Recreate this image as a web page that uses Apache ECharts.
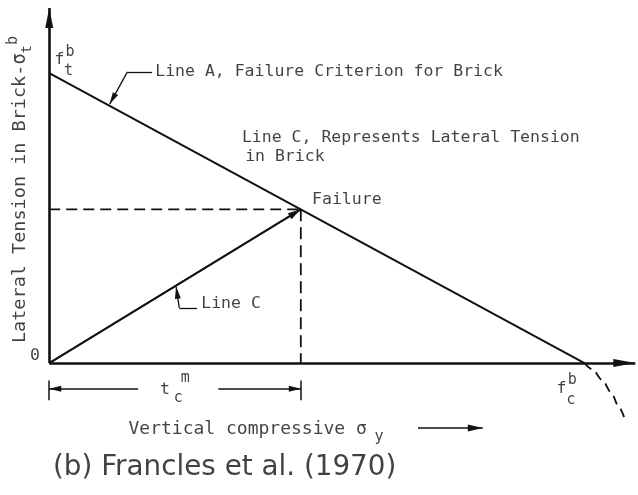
<!DOCTYPE html>
<html>
<head>
<meta charset="utf-8">
<script src="https://cdn.jsdelivr.net/npm/echarts@6/dist/echarts.min.js"></script>
<style>
  html, body { margin: 0; padding: 0; background: #ffffff; }
  #chart { width: 638px; height: 495px; }
</style>
</head>
<body>
<div id="chart"></div>
<script>
// Lateral tension in brick vs. vertical compression (strengths scaled to 10 units)
const ftb = 10;                       // f_t^b : lateral tensile strength of brick
const fcb = 10;                       // f_c^b : compressive strength of brick
const failurePoint = [4.7, 5.3];      // intersection of Line C with Line A
const lineA = [[0, ftb], [fcb, 0]];   // failure criterion for brick
const lineC = [[0, 0], failurePoint]; // lateral tension induced in brick
const envelopeTail = [[10, 0], [10.15, -0.22], [10.33, -0.58], [10.5, -1.02], [10.64, -1.5], [10.75, -1.92]];

const ink = '#111111';
const mono = 'DejaVu Sans Mono';

// plotting window (value space), axes themselves are drawn as arrows
const view = { xMin: -0.92, xMax: 11, yMin: -4.55, yMax: 12.52 };

// arrow segment: plain start, filled head whose tip sits on the end point
function arrow(from, to, w, h, width) {
  return [
    { coord: from, symbol: 'none', lineStyle: { width: width, color: ink, type: 'solid' } },
    { coord: to, symbol: 'triangle', symbolSize: [w, h], symbolOffset: [0, h / 2] }
  ];
}
function plain(from, to, width) {
  return [
    { coord: from, symbol: 'none', lineStyle: { width: width, color: ink, type: 'solid' } },
    { coord: to, symbol: 'none' }
  ];
}

const dimY = -0.89;
const guides = [
  arrow([0, 0], [0, 12.24], 8, 20, 2.6),            // vertical axis
  arrow([0, 0], [10.95, 0], 8, 22, 2.6),            // horizontal axis
  arrow(lineC[0], lineC[1], 7, 13, 2),              // head of Line C at failure
  plain([1.92, 10.04], [1.46, 10.04], 1.3),         // leader to Line A
  arrow([1.46, 10.04], [1.13, 8.93], 6, 12, 1.3),
  plain([2.76, 1.90], [2.43, 1.90], 1.3),           // leader to Line C
  arrow([2.43, 1.90], [2.37, 2.63], 6, 12, 1.3),
  arrow([1.66, dimY], [0, dimY], 6, 12, 1.5),       // t_c^m dimension
  arrow([3.16, dimY], [failurePoint[0], dimY], 6, 12, 1.5),
  plain([0, -0.6], [0, -1.28], 1.5),
  plain([failurePoint[0], -0.6], [failurePoint[0], -1.28], 1.5),
  arrow([6.89, -2.24], [8.1, -2.24], 7, 15, 1.5)    // direction of sigma_y
];

const notes = [
  { t: 'Line A, Failure Criterion for Brick', at: [1.98, 10.04] },
  { t: 'Line C, Represents Lateral Tension', at: [3.60, 7.78] },
  { t: 'in Brick', at: [3.66, 7.13] },
  { t: 'Failure', at: [4.91, 5.63] },
  { t: 'Line C', at: [2.84, 2.04] },
  { t: '0', at: [-0.265, 0.245], align: 'center' },
  { t: 'f', at: [0.19, 10.45], align: 'center' },
  { t: 'b', at: [0.39, 10.73], align: 'center', size: 15 },
  { t: 't', at: [0.36, 10.06], align: 'center', size: 15 },
  { t: 'f', at: [9.57, -0.9], align: 'center' },
  { t: 'b', at: [9.77, -0.58], align: 'center', size: 15 },
  { t: 'c', at: [9.75, -1.27], align: 'center', size: 15 },
  { t: 't', at: [2.16, -0.93], align: 'center' },
  { t: 'm', at: [2.54, -0.51], align: 'center', size: 15 },
  { t: 'c', at: [2.41, -1.2], align: 'center', size: 15 },
  { t: 'Vertical compressive σ', at: [1.48, -2.28], size: 18 },
  { t: 'y', at: [6.16, -2.55], align: 'center', size: 15 },
  { t: '(b) Francles et al. (1970)', at: [0.07, -3.62], size: 27.8, font: 'DejaVu Sans' }
];

const yName = {
  at: [-0.546, 0.69],
  text: '{m|Lateral Tension in Brick-σ}{s|t}{p|b}'
};

const chart = echarts.init(document.getElementById('chart'), null, { renderer: 'canvas' });

const noteData = notes.map(n => ({
  value: n.at,
  label: {
    show: true,
    position: 'inside',
    formatter: n.t,
    align: n.align || 'left',
    verticalAlign: 'middle',
    fontFamily: n.font || mono,
    fontSize: n.size || 16.5,
    color: ink,
    textBorderWidth: 0
  }
}));
noteData.push({
  value: yName.at,
  label: {
    show: true,
    position: 'inside',
    rotate: 90,
    align: 'left',
    verticalAlign: 'middle',
    formatter: yName.text,
    textBorderWidth: 0,
    rich: {
      m: { fontFamily: mono, fontSize: 18.5, color: ink, lineHeight: 28 },
      s: { fontFamily: mono, fontSize: 14, color: ink, verticalAlign: 'bottom' },
      p: { fontFamily: mono, fontSize: 15, color: ink, verticalAlign: 'top' }
    }
  }
});

const option = {
  animation: false,
  backgroundColor: '#ffffff',
  grid: { left: 0, right: 0, top: 0, bottom: 0 },
  xAxis: { type: 'value', min: view.xMin, max: view.xMax, show: false },
  yAxis: { type: 'value', min: view.yMin, max: view.yMax, show: false },
  series: [
    {
      name: 'Line A',
      type: 'line',
      data: lineA,
      symbol: 'none',
      lineStyle: { color: ink, width: 2 },
      z: 3,
      markLine: {
        silent: true,
        animation: false,
        symbol: ['none', 'none'],
        label: { show: false },
        emphasis: { disabled: true },
        lineStyle: { color: ink, type: 'solid' },
        data: guides
      }
    },
    {
      name: 'Line C',
      type: 'line',
      data: lineC,
      symbol: 'none',
      lineStyle: { color: ink, width: 1.6 },
      z: 3
    },
    {
      name: 'Failure level',
      type: 'line',
      data: [[0, failurePoint[1]], failurePoint],
      symbol: 'none',
      lineStyle: { color: ink, width: 1.8, type: [11, 6] }
    },
    {
      name: 'Failure compression',
      type: 'line',
      data: [failurePoint, [failurePoint[0], 0]],
      symbol: 'none',
      lineStyle: { color: ink, width: 1.8, type: [12, 6] }
    },
    {
      name: 'Envelope beyond f_c',
      type: 'line',
      data: envelopeTail,
      smooth: 0.3,
      smoothMonotone: 'x',
      symbol: 'none',
      lineStyle: { color: ink, width: 1.8, type: [9, 6] }
    },
    {
      name: 'notes',
      type: 'scatter',
      data: noteData,
      symbolSize: 0,
      silent: true,
      z: 5
    }
  ]
};

chart.setOption(option);
</script>
</body>
</html>
